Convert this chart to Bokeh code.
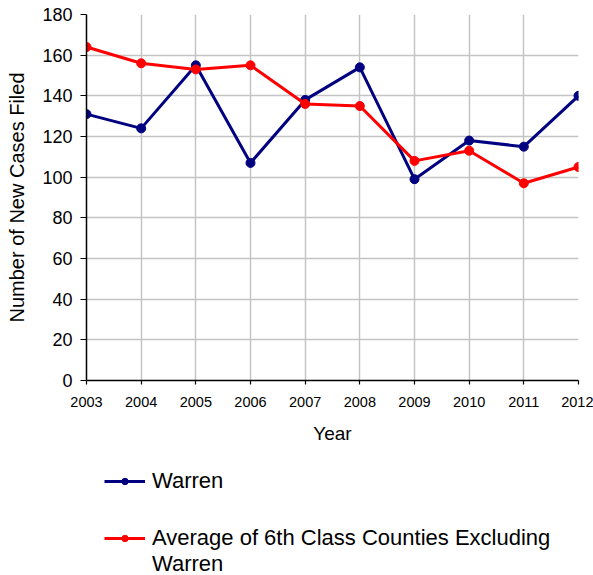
from bokeh.plotting import figure
from bokeh.layouts import column
from bokeh.models import Legend, LegendItem, Range1d, FixedTicker
from bokeh.embed import file_html
from bokeh.resources import INLINE

years = [2003, 2004, 2005, 2006, 2007, 2008, 2009, 2010, 2011, 2012]
warren = [131, 124, 155, 107, 138, 154, 99, 118, 115, 140]
average = [164, 156, 153, 155, 136, 135, 108, 113, 97, 105]
y_ticks = [0, 20, 40, 60, 80, 100, 120, 140, 160, 180]

FONT = "Liberation Sans"
NAVY = "#000080"
RED = "#FF0000"

p = figure(frame_width=492, frame_height=366, output_backend="svg", toolbar_location=None,
           x_range=Range1d(2003, 2012), y_range=Range1d(0, 180),
           min_border_left=86, min_border_top=14, min_border_right=15,
           min_border_bottom=70)
p.outline_line_color = None
p.background_fill_color = "white"
p.border_fill_color = "white"

for ax in (p.xaxis[0], p.yaxis[0]):
    ax.axis_line_color = "black"
    ax.axis_line_width = 1.5
    ax.major_tick_line_color = "black"
    ax.major_tick_line_width = 1.2
    ax.minor_tick_line_color = None
    ax.major_tick_in = 0
    ax.major_label_text_font = FONT
    ax.major_label_text_color = "black"
    ax.axis_label_text_font = FONT
    ax.axis_label_text_font_style = "normal"
    ax.axis_label_text_color = "black"

p.xaxis.ticker = FixedTicker(ticks=years)
p.xaxis.major_tick_out = 4
p.xaxis.major_label_text_font_size = "14.5px"
p.xaxis.major_label_standoff = 12
p.xaxis.axis_label = "Year"
p.xaxis.axis_label_text_font_size = "19px"
p.xaxis.axis_label_standoff = 13

p.yaxis.ticker = FixedTicker(ticks=y_ticks)
p.yaxis.major_tick_out = 6
p.yaxis.major_label_text_font_size = "18px"
p.yaxis.major_label_standoff = 8
p.yaxis.axis_label = "Number of New Cases Filed"
p.yaxis.axis_label_text_font_size = "20px"
p.yaxis.axis_label_standoff = 11

p.xgrid.ticker = FixedTicker(ticks=years)
p.ygrid.ticker = FixedTicker(ticks=y_ticks)
for g in (p.xgrid[0], p.ygrid[0]):
    g.grid_line_color = "#c4c4c4"
    g.grid_line_width = 1.5

p.line(years, warren, line_color=NAVY, line_width=3)
p.scatter(years, warren, size=9, fill_color=NAVY, line_color=NAVY)
p.line(years, average, line_color=RED, line_width=3)
p.scatter(years, average, size=9, fill_color=RED, line_color=RED)

# legend area (separate figure below the chart; its renderers are hidden,
# they only provide the legend glyphs)
lg = figure(width=593, height=125, output_backend="svg", toolbar_location=None,
            x_axis_type=None, y_axis_type=None,
            x_range=Range1d(0, 1), y_range=Range1d(0, 1),
            min_border=0)
lg.outline_line_color = None
lg.grid.visible = False
ll1 = lg.line(years, warren, line_color=NAVY, line_width=3, visible=False)
ls1 = lg.scatter(years, warren, fill_color=NAVY, line_color=NAVY, visible=False)
ll2 = lg.line(years, average, line_color=RED, line_width=3, visible=False)
ls2 = lg.scatter(years, average, fill_color=RED, line_color=RED, visible=False)


def style(leg):
    leg.label_text_font = FONT
    leg.label_text_font_size = "22px"
    leg.label_text_color = "black"
    leg.glyph_width = 41
    leg.glyph_height = 16
    leg.label_standoff = 7
    leg.label_height = 24
    leg.spacing = 0
    leg.padding = 0
    leg.margin = 0
    leg.border_line_color = None
    leg.background_fill_alpha = 0
    leg.inactive_fill_alpha = 0


legend_a = Legend(items=[LegendItem(label="Warren", renderers=[ll1, ls1])],
                  location=(18, 81), orientation="vertical")
style(legend_a)
legend_b = Legend(items=[
    LegendItem(label="Average of 6th Class Counties Excluding", renderers=[ll2, ls2]),
    LegendItem(label="Warren", renderers=[]),
], location=(18, -2), orientation="vertical")
style(legend_b)
lg.add_layout(legend_a, "center")
lg.add_layout(legend_b, "center")

open("out.html", "w").write(file_html(column(p, lg, spacing=0), INLINE))
